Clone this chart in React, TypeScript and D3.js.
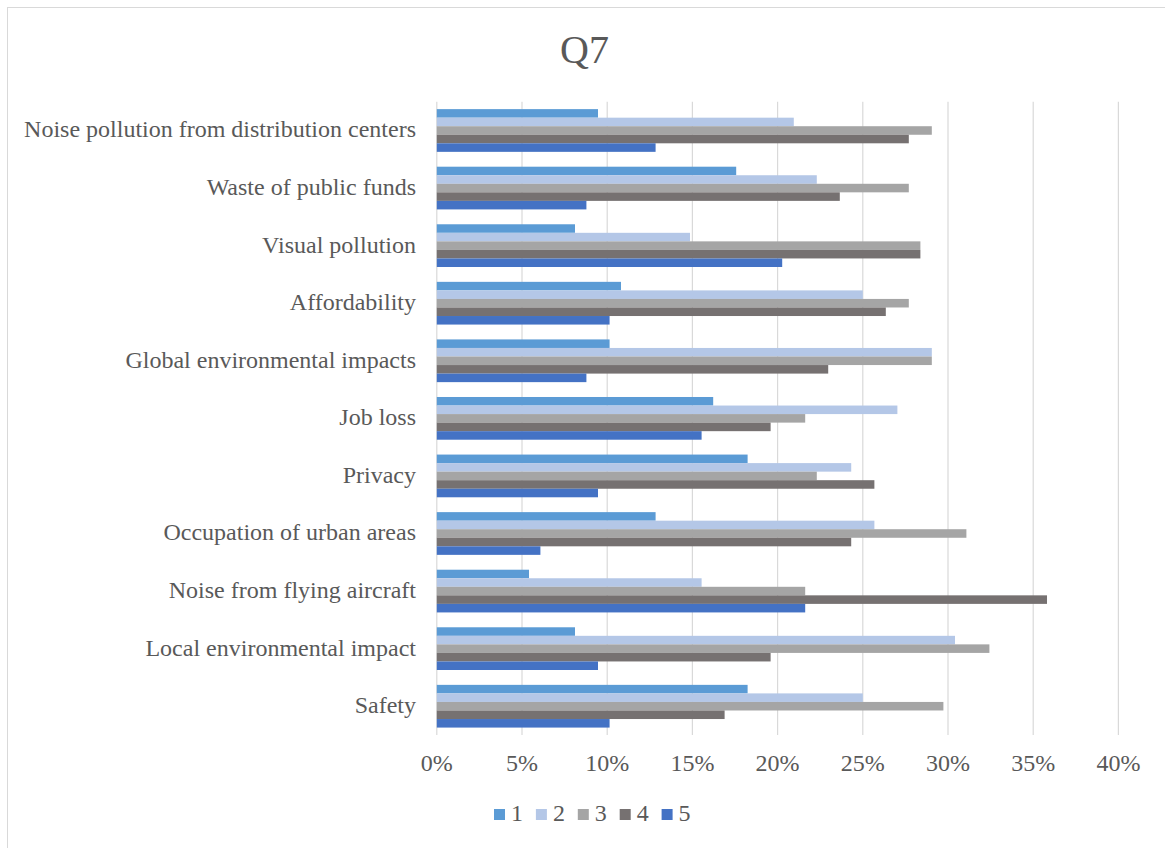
import React from "react";
import * as d3 from "d3";

const categories = [
  "Noise pollution from distribution centers",
  "Waste of public funds",
  "Visual pollution",
  "Affordability",
  "Global environmental impacts",
  "Job loss",
  "Privacy",
  "Occupation of urban areas",
  "Noise from flying aircraft",
  "Local environmental impact",
  "Safety",
];

const seriesNames = ["1", "2", "3", "4", "5"];

// percentages (%)
const s1 = [9.46, 17.57, 8.11, 10.81, 10.14, 16.22, 18.24, 12.84, 5.41, 8.11, 18.24];
const s2 = [20.95, 22.3, 14.86, 25.0, 29.05, 27.03, 24.32, 25.68, 15.54, 30.41, 25.0];
const s3 = [29.05, 27.7, 28.38, 27.7, 29.05, 21.62, 22.3, 31.08, 21.62, 32.43, 29.73];
const s4 = [27.7, 23.65, 28.38, 26.35, 22.97, 19.59, 25.68, 24.32, 35.81, 19.59, 16.89];
const s5 = [12.84, 8.78, 20.27, 10.14, 8.78, 15.54, 9.46, 6.08, 21.62, 9.46, 10.14];

const seriesValues = [s1, s2, s3, s4, s5];
const colors = ["#5B9BD5", "#B4C7E7", "#A5A5A5", "#767171", "#4472C4"];
const ticks = [0, 5, 10, 15, 20, 25, 30, 35, 40];

const W = 1165;
const H = 848;
const plotLeft = 436.8;
const plotRight = 1118.4;
const plotTop = 101.7;
const plotBottom = 735;
const font = "'Liberation Serif', 'Times New Roman', serif";
const textColor = "#595959";

export default function App() {
  const x = d3.scaleLinear().domain([0, 40]).range([plotLeft, plotRight]);
  const y = d3
    .scaleBand<string>()
    .domain(categories)
    .range([plotTop, plotBottom])
    .paddingInner(0.258)
    .paddingOuter(0.129);
  const ys = d3.scaleBand<string>().domain(seriesNames).range([0, y.bandwidth()]);

  return (
    <svg
      width={W}
      height={H}
      style={{ position: "absolute", left: 0, top: 0, background: "#fff" }}
    >
      <rect x={7.5} y={7.5} width={1200} height={900} fill="#fff" stroke="#D9D9D9" strokeWidth={1} />
      <text
        x={584.5}
        y={63}
        textAnchor="middle"
        fontFamily={font}
        fontSize={40}
        fill={textColor}
      >
        Q7
      </text>
      {ticks.map((t) => (
        <line
          key={"g" + t}
          x1={x(t)}
          x2={x(t)}
          y1={plotTop}
          y2={plotBottom}
          stroke="#D9D9D9"
          strokeWidth={1.2}
        />
      ))}
      {categories.map((c, i) => (
        <g key={c}>
          {seriesValues.map((vals, si) => (
            <rect
              key={si}
              x={x(0)}
              y={(y(c) as number) + (ys(seriesNames[si]) as number)}
              width={x(vals[i]) - x(0)}
              height={ys.bandwidth()}
              fill={colors[si]}
            />
          ))}
          <text
            x={416}
            y={(y(c) as number) + y.bandwidth() / 2 + 7}
            textAnchor="end"
            fontFamily={font}
            fontSize={24}
            fill={textColor}
          >
            {c}
          </text>
        </g>
      ))}
      {ticks.map((t) => (
        <text
          key={"t" + t}
          x={x(t)}
          y={771}
          textAnchor="middle"
          fontFamily={font}
          fontSize={24}
          fill={textColor}
        >
          {t + "%"}
        </text>
      ))}
      {seriesNames.map((s, i) => (
        <g key={"l" + s} transform={`translate(${494 + i * 41.9},0)`}>
          <rect x={0} y={809} width={11} height={11} fill={colors[i]} />
          <text x={17} y={821} fontFamily={font} fontSize={24} fill={textColor}>
            {s}
          </text>
        </g>
      ))}
    </svg>
  );
}
